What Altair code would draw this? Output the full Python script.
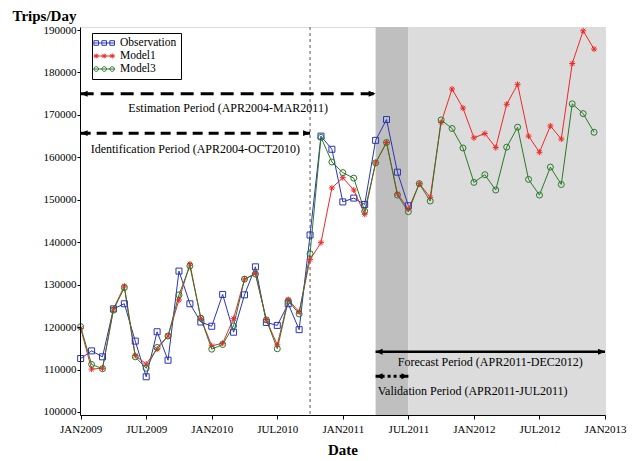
import altair as alt
import pandas as pd

FONT = "Liberation Serif"

# Month index 0 = JAN2009
observation = [112600, 114400, 113000, 124300, 125500, 116700, 108300, 118900, 112200, 133200,
               125500, 121200, 120200, 127700, 118800, 127600, 134200, 121100, 120400, 125500,
               119400, 141700, 165000, 161900, 149500, 150400, 148900, 164000, 168900, 156500,
               148600]
model1 = [119700, 110100, 110300, 124300, 129700, 113300, 111300, 114800, 117900, 126400,
          134900, 122100, 115600, 116200, 122000, 131300, 132700, 121700, 115800, 126500,
          123600, 135900, 139900, 152800, 155200, 152300, 146600, 158700, 163500, 151400,
          147800, 153800, 150600, 168200, 176100, 171600, 164600, 165600, 162300, 172500,
          177200, 165000, 161200, 167400, 164300, 182100, 189800, 185500]
model3 = [120100, 111200, 110200, 124000, 129300, 113000, 110300, 115200, 117900, 127600,
          134400, 122100, 114800, 115900, 120300, 131300, 132500, 121700, 114900, 126200,
          123100, 137300, 164700, 158900, 156400, 155100, 147300, 158700, 163500, 151100,
          147200, 153800, 149700, 168800, 166800, 162200, 154100, 155900, 152300, 162400,
          167100, 154800, 151100, 157700, 153600, 172600, 170300, 165900]

series_names = ["Observation", "Model1", "Model3"]
series_colors = ["#2a35b5", "#f02828", "#2a7a2a"]

x_tick_months = [0, 6, 12, 18, 24, 30, 36, 42, 48]
x_tick_labels = ["JAN2009", "JUL2009", "JAN2010", "JUL2010", "JAN2011",
                 "JUL2011", "JAN2012", "JUL2012", "JAN2013"]
y_ticks = [100000, 110000, 120000, 130000, 140000, 150000, 160000, 170000, 180000, 190000]

# Periods (month index)
ident_end = 21      # OCT2010
valid_start = 27    # APR2011
valid_end = 30      # JUL2011
forecast_end = 48   # JAN2013

arrow_names = ["Estimation", "Identification", "Forecast", "Validation"]
arrow_start = [0, 0, 27, 27]
arrow_end = [27, 21, 48, 30]
arrow_y = [175000, 165700, 114200, 108400]

text_labels = ["Estimation Period (APR2004-MAR2011)",
               "Identification Period (APR2004-OCT2010)",
               "Forecast Period (APR2011-DEC2012)",
               "Validation Period (APR2011-JUL2011)"]
text_x = [13.5, 10.5, 37.5, 27.2]
text_y = [171630, 161900, 111710, 104880]
text_align = ["center", "center", "center", "left"]

# ---------------- data frames
rows = []
for name, vals in zip(series_names, [observation, model1, model3]):
    for i, v in enumerate(vals):
        rows.append({"t": i, "v": v, "series": name})
df = pd.DataFrame(rows)

arrows = pd.DataFrame({"name": arrow_names, "x1": arrow_start, "x2": arrow_end, "y": arrow_y})
texts = pd.DataFrame({"label": text_labels, "x": text_x, "y": text_y, "align": text_align})
bands = pd.DataFrame({"x1": [valid_start, valid_end], "x2": [valid_end, forecast_end],
                      "kind": ["dark", "light"]})
vline = pd.DataFrame({"x": [ident_end]})

W, H = 525, 388
xscale = alt.Scale(domain=[-0.06, 48], nice=False, zero=False)
yscale = alt.Scale(domain=[99293, 190707], nice=False, zero=False)

label_expr = "[" + ",".join("'%s'" % s for s in x_tick_labels) + "][round(datum.value/6)]"

xaxis = alt.Axis(values=x_tick_months, labelExpr=label_expr, title="Date", grid=False,
                 labelFlush=False, labelOverlap=False,
                 labelFont=FONT, labelFontSize=11, labelColor="black", tickColor="black",
                 domainColor="black", tickSize=4, labelPadding=4, titleFont=FONT,
                 titleFontSize=15, titleFontWeight="bold", titleColor="black",
                 titlePadding=8, zindex=1)
yaxis = alt.Axis(values=y_ticks, format="d", title="Trips/Day", grid=False,
                 labelFlush=False, labelOverlap=False,
                 labelFont=FONT, labelFontSize=11, labelColor="black", tickColor="black",
                 domainColor="black", tickSize=3, labelPadding=1, titleFont=FONT,
                 titleFontSize=15, titleFontWeight="bold", titleColor="black",
                 titleAngle=0, titleAlign="left", titleBaseline="middle",
                 titleX=-68, titleY=-12, zindex=1)

X = lambda f: alt.X(f, type="quantitative", scale=xscale, axis=xaxis)
Y = lambda f: alt.Y(f, type="quantitative", scale=yscale, axis=yaxis)

band_layer = alt.Chart(bands).mark_rect().encode(
    x=X("x1"), x2="x2", y=alt.value(0), y2=alt.value(H),
    color=alt.Color("kind:N", scale=alt.Scale(domain=["dark", "light"],
                                              range=["#bfbfbf", "#dcdcdc"]), legend=None),
)

vline_layer = alt.Chart(vline).mark_rule(color="#555555", strokeDash=[3, 3], strokeWidth=1).encode(
    x=X("x")
)

def arrow_rule(name, dash, width):
    d = arrows[arrows["name"] == name]
    kw = dict(color="black", strokeWidth=width)
    if dash:
        kw["strokeDash"] = dash
    return alt.Chart(d).mark_rule(**kw).encode(x=X("x1"), x2="x2", y=Y("y"))

arrow_layers = [
    arrow_rule("Estimation", [13, 7], 3),
    arrow_rule("Identification", [10, 6], 3),
    arrow_rule("Forecast", None, 2.5),
    arrow_rule("Validation", [3, 3], 3),
]

right_head = "M0,0L-2,-0.85L-2,0.85Z"
left_head = "M0,0L2,-0.85L2,0.85Z"
heads_r = alt.Chart(arrows).mark_point(shape=right_head, filled=True, color="black",
                                       size=49, opacity=1).encode(x=X("x2"), y=Y("y"))
heads_l = alt.Chart(arrows).mark_point(shape=left_head, filled=True, color="black",
                                       size=49, opacity=1).encode(x=X("x1"), y=Y("y"))

text_center = alt.Chart(texts[texts["align"] == "center"]).mark_text(
    font=FONT, fontSize=12, color="black", align="center", baseline="middle"
).encode(x=X("x"), y=Y("y"), text="label:N")
text_left = alt.Chart(texts[texts["align"] == "left"]).mark_text(
    font=FONT, fontSize=12, color="black", align="left", baseline="middle"
).encode(x=X("x"), y=Y("y"), text="label:N")

cscale = alt.Scale(domain=series_names, range=series_colors)

star = "M-1,0H1M0,-1V1M-0.72,-0.72L0.72,0.72M-0.72,0.72L0.72,-0.72"
square = "M-1,-1H1V1H-1Z"
circle = "circle"
shape_scale = alt.Scale(domain=series_names, range=[square, star, circle])

def leg_square(cx, r=0.42):
    return "M%.2f,%.2fh%.2fv%.2fh%.2fz" % (cx - r, -r, 2 * r, 2 * r, -2 * r)

def leg_star(cx, r=0.45):
    d = r * 0.72
    return ("M%.2f,0h%.2fM%.2f,%.2fv%.2fM%.2f,%.2fl%.2f,%.2fM%.2f,%.2fl%.2f,%.2f"
            % (cx - r, 2 * r, cx, -r, 2 * r, cx - d, -d, 2 * d, 2 * d, cx - d, d, 2 * d, -2 * d))

def leg_circle(cx, r=0.42):
    return "M%.2f,0a%.2f,%.2f 0 1,0 %.2f,0a%.2f,%.2f 0 1,0 %.2f,0" % (cx - r, r, r, 2 * r, r, r, -2 * r)

centers = [-1.05, 0.4, 1.85]
line_part = "M-1.5,0H2.3"
leg_obs = line_part + "".join(leg_square(c) for c in centers)
leg_m1 = line_part + "".join(leg_star(c) for c in centers)
leg_m3 = line_part + "".join(leg_circle(c) for c in centers)

sym_expr = ("datum.value === 'Observation' ? '%s' : (datum.value === 'Model1' ? '%s' : '%s')"
            % (leg_obs, leg_m1, leg_m3))

legend = alt.Legend(
    title=None, orient="none", legendX=12, legendY=6, strokeColor="black",
    fillColor="white", padding=4, labelFont=FONT, labelFontSize=11.5, labelColor="black",
    symbolSize=121, labelOffset=12, rowPadding=1, symbolStrokeWidth=1,
    symbolType={"expr": sym_expr},
)

lines = alt.Chart(df).mark_line(strokeWidth=1).encode(
    x=X("t"), y=Y("v"),
    color=alt.Color("series:N", scale=cscale, legend=None, sort=series_names),
)
points = alt.Chart(df).mark_point(filled=False, size=36, strokeWidth=1, opacity=1).encode(
    x=X("t"), y=Y("v"),
    color=alt.Color("series:N", scale=cscale, legend=legend, sort=series_names),
    shape=alt.Shape("series:N", scale=shape_scale, legend=None),
)

chart = alt.layer(
    band_layer, vline_layer, *arrow_layers, heads_r, heads_l, text_center, text_left,
    lines, points
).resolve_scale(color="independent").properties(
    width=W, height=H,
    autosize=alt.AutoSizeParams(type="none"),
    padding={"left": 80, "top": 27, "right": 31, "bottom": 46},
).configure_view(stroke="#555555", strokeWidth=1).configure(background="white")

chart.save("out.html", embed_options={"renderer": "svg", "actions": False})
